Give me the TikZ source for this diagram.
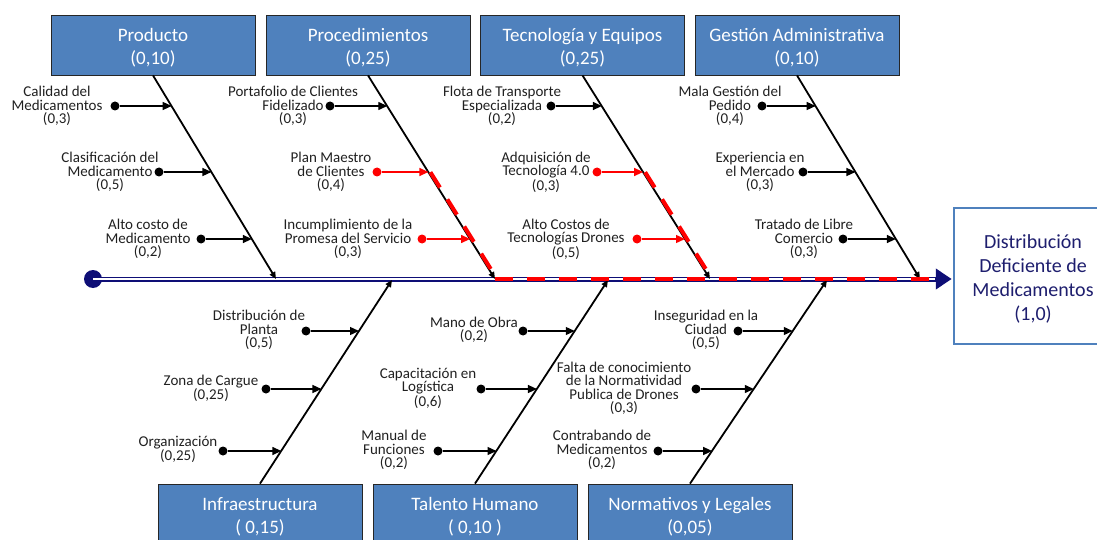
\documentclass[tikz,border=0pt]{standalone}
\usepackage{fontspec}
\setmainfont{Carlito}
\usetikzlibrary{arrows.meta,calc}

\definecolor{boxblue}{RGB}{79,129,189}
\definecolor{spinenavy}{RGB}{14,14,118}
\definecolor{headtext}{RGB}{30,30,110}
\definecolor{labelgray}{RGB}{32,32,32}

\begin{document}
\begin{tikzpicture}[x=1pt,y=-1pt,
  catbox/.style={draw=black!85, line width=0.8pt, fill=boxblue,
    minimum width=204pt, minimum height=60pt, inner sep=0pt},
  cattitle/.style={text=white, align=center, inner sep=0pt,
    font=\fontsize{19}{23}\selectfont},
  headbox/.style={draw=boxblue, line width=2.5pt, fill=white,
    minimum width=300pt, minimum height=136pt, inner sep=0pt},
  headtitle/.style={text=headtext, align=center, inner sep=0pt,
    font=\fontsize{20}{24}\selectfont},
  bone/.style={line width=1.8pt, -{Triangle[length=7pt,width=6pt]}},
  cause/.style={align=center, inner sep=0pt, text=labelgray,
    font=\fontsize{15}{13.5}\selectfont},
  causedot/.style={circle, fill=black, inner sep=0pt, minimum size=9pt},
  feed/.style={line width=1.3pt, -{Triangle[length=9pt,width=8pt]}},
  hotdot/.style={causedot, fill=red},
  hotfeed/.style={feed, draw=red, -{Triangle[length=9pt,width=8pt,fill=red]}},
  hotdash/.style={draw=red, line width=4pt, dash pattern=on 18pt off 14pt}
]
\path[use as bounding box, clip] (0,0) rectangle (1097,540);

% ---------- category boxes ----------
\node[catbox] (prod)  at (153,45)   {};
\node[catbox] (proc)  at (368,45)   {};
\node[catbox] (tec)   at (582.5,45) {};
\node[catbox] (gest)  at (797,45)   {};
\node[catbox] (infra) at (260,514)  {};
\node[catbox] (tal)   at (475,514)  {};
\node[catbox] (norm)  at (690,514)  {};
\node[cattitle] (prodT)  at ($(prod.center)+(0,3)$)  {Producto\\(0,10)};
\node[cattitle] (procT)  at ($(proc.center)+(0,3)$)  {Procedimientos\\(0,25)};
\node[cattitle] (tecT)   at ($(tec.center)+(0,3)$)   {Tecnología y Equipos\\(0,25)};
\node[cattitle] (gestT)  at ($(gest.center)+(0,3)$)  {Gestión Administrativa\\(0,10)};
\node[cattitle] (infraT) at ($(infra.north)+(0,33)$) {Infraestructura\\( 0,15)};
\node[cattitle] (talT)   at ($(tal.north)+(0,33)$)   {Talento Humano\\( 0,10 )};
\node[cattitle] (normT)  at ($(norm.north)+(0,33)$)  {Normativos y Legales\\(0,05)};

% ---------- effect (box runs past the right edge) ----------
\node[headbox] (head) at (1104,276) {};
\node[headtitle] (headT) at (1033,279)
  {Distribución\\Deficiente de\\Medicamentos\\(1,0)};

% ---------- spine ----------
\node[circle, fill=spinenavy, inner sep=0pt, minimum size=18pt] (tail) at (93,279) {};
\coordinate (tip) at (tail.center -| head.west);
\coordinate (sP)  at (276,279);
\coordinate (sPr) at (495,279);
\coordinate (sT)  at (710,279);
\coordinate (sG)  at (920,279);
\coordinate (sI)  at (392,280);
\coordinate (sH)  at (608,280);
\coordinate (sN)  at (827,280);

\draw[spinenavy, line width=5pt, shorten >=1pt,
      -{Triangle[length=16pt,width=20pt]}] (tail.center) -- (tip);
\draw[white, line width=1.6pt] (tail.center) -- ($(tip)+(-18,0)$);

% ---------- main bones ----------
\draw[bone] (prod.south)  -- (sP);
\draw[bone] (proc.south)  -- (sPr);
\draw[bone] (tec.south)   -- (sT);
\draw[bone] (gest.south)  -- (sG);
\draw[bone] (infra.north) -- (sI);
\draw[bone] (tal.north)   -- (sH);
\draw[bone] (norm.north)  -- (sN);

% points where the cause arrows meet the bones
\coordinate (b1)  at ($(prod.south)!{31/204}!(sP)$);
\coordinate (b2)  at ($(prod.south)!{97/204}!(sP)$);
\coordinate (b3)  at ($(prod.south)!{164/204}!(sP)$);
\coordinate (b4)  at ($(proc.south)!{31/204}!(sPr)$);
\coordinate (b5)  at ($(proc.south)!{97/204}!(sPr)$);
\coordinate (b6)  at ($(proc.south)!{164/204}!(sPr)$);
\coordinate (b7)  at ($(tec.south)!{31/204}!(sT)$);
\coordinate (b8)  at ($(tec.south)!{97/204}!(sT)$);
\coordinate (b9)  at ($(tec.south)!{164/204}!(sT)$);
\coordinate (b10) at ($(gest.south)!{31/204}!(sG)$);
\coordinate (b11) at ($(gest.south)!{97/204}!(sG)$);
\coordinate (b12) at ($(gest.south)!{164/204}!(sG)$);
\coordinate (b13) at ($(infra.north)!{153/204}!(sI)$);
\coordinate (b14) at ($(infra.north)!{95/204}!(sI)$);
\coordinate (b15) at ($(infra.north)!{33/204}!(sI)$);
\coordinate (b16) at ($(tal.north)!{153/204}!(sH)$);
\coordinate (b17) at ($(tal.north)!{95/204}!(sH)$);
\coordinate (b18) at ($(tal.north)!{33/204}!(sH)$);
\coordinate (b19) at ($(norm.north)!{153/204}!(sN)$);
\coordinate (b20) at ($(norm.north)!{95/204}!(sN)$);
\coordinate (b21) at ($(norm.north)!{33/204}!(sN)$);

% ---------- critical path ----------
\draw[hotdash] ($(b5)+(2,0)$) -- ($(sPr)+(2,0)$);
\draw[hotdash] ($(b8)+(2,0)$) -- ($(sT)+(2,0)$);
\draw[hotdash] (sPr) -- ($(tip)+(-24,0)$);

% ---------- causes: Producto ----------
\node[cause] (l1) at (57,106)  {Calidad del\\Medicamentos\\(0,3)};
\node[causedot] (d1) at (115,106) {};
\draw[feed] (d1) -- (d1 -| b1);
\node[cause] (l2) at (110,172) {Clasificación del\\Medicamento\\(0,5)};
\node[causedot] (d2) at (159,172) {};
\draw[feed] (d2) -- (d2 -| b2);
\node[cause] (l3) at (148,239) {Alto costo de\\Medicamento\\(0,2)};
\node[causedot] (d3) at (201,239) {};
\draw[feed] (d3) -- (d3 -| b3);

% ---------- causes: Procedimientos ----------
\node[cause] (l4) at (293,106) {Portafolio de Clientes\\Fidelizado\\(0,3)};
\node[causedot] (d4) at (330,106) {};
\draw[feed] (d4) -- (d4 -| b4);
\node[cause] (l5) at (331,172) {Plan Maestro\\de Clientes\\(0,4)};
\node[hotdot] (d5) at (377,172) {};
\draw[hotfeed] (d5) -- (d5 -| b5);
\node[cause] (l6) at (348,239) {Incumplimiento de la\\Promesa del Servicio\\(0,3)};
\node[hotdot] (d6) at (422,239) {};
\draw[hotfeed] (d6) -- (d6 -| b6);

% ---------- causes: Tecnología y Equipos ----------
\node[cause] (l7) at (502,106) {Flota de Transporte\\Especializada\\(0,2)};
\node[causedot] (d7) at (551,106) {};
\draw[feed] (d7) -- (d7 -| b7);
\node[cause] (l8) at (546,172) {Adquisición de\\Tecnología 4.0\\(0,3)};
\node[hotdot] (d8) at (597,172) {};
\draw[hotfeed] (d8) -- (d8 -| b8);
\node[cause] (l9) at (566,239) {Alto Costos de\\Tecnologías Drones\\(0,5)};
\node[hotdot] (d9) at (637,239) {};
\draw[hotfeed] (d9) -- (d9 -| b9);

% ---------- causes: Gestión Administrativa ----------
\node[cause] (l10) at (730,106) {Mala Gestión del\\Pedido\\(0,4)};
\node[causedot] (d10) at (762,106) {};
\draw[feed] (d10) -- (d10 -| b10);
\node[cause] (l11) at (760,172) {Experiencia en\\el Mercado\\(0,3)};
\node[causedot] (d11) at (803,172) {};
\draw[feed] (d11) -- (d11 -| b11);
\node[cause] (l12) at (804,239) {Tratado de Libre\\Comercio\\(0,3)};
\node[causedot] (d12) at (843,239) {};
\draw[feed] (d12) -- (d12 -| b12);

% ---------- causes: Infraestructura ----------
\node[cause] (l13) at (259,330) {Distribución de\\Planta\\(0,5)};
\node[causedot] (d13) at (306,331) {};
\draw[feed] (d13) -- (d13 -| b13);
\node[cause] (l14) at (211,388.5) {Zona de Cargue\\(0,25)};
\node[causedot] (d14) at (266,389) {};
\draw[feed] (d14) -- (d14 -| b14);
\node[cause] (l15) at (178,449.5) {Organización\\(0,25)};
\node[causedot] (d15) at (223,451) {};
\draw[feed] (d15) -- (d15 -| b15);

% ---------- causes: Talento Humano ----------
\node[cause] (l16) at (474,330) {Mano de Obra\\(0,2)};
\node[causedot] (d16) at (523,331) {};
\draw[feed] (d16) -- (d16 -| b16);
\node[cause] (l17) at (428,388) {Capacitación en\\Logística\\(0,6)};
\node[causedot] (d17) at (481,389) {};
\draw[feed] (d17) -- (d17 -| b17);
\node[cause] (l18) at (394,450) {Manual de\\Funciones\\(0,2)};
\node[causedot] (d18) at (438,451) {};
\draw[feed] (d18) -- (d18 -| b18);

% ---------- causes: Normativos y Legales ----------
\node[cause] (l19) at (706,330) {Inseguridad en la\\Ciudad\\(0,5)};
\node[causedot] (d19) at (738,331) {};
\draw[feed] (d19) -- (d19 -| b19);
\node[cause] (l20) at (624,388.5) {Falta de conocimiento\\de la Normatividad\\Publica de Drones\\(0,3)};
\node[causedot] (d20) at (696,389) {};
\draw[feed] (d20) -- (d20 -| b20);
\node[cause] (l21) at (602,450) {Contrabando de\\Medicamentos\\(0,2)};
\node[causedot] (d21) at (658,451) {};
\draw[feed] (d21) -- (d21 -| b21);
\end{tikzpicture}
\end{document}
